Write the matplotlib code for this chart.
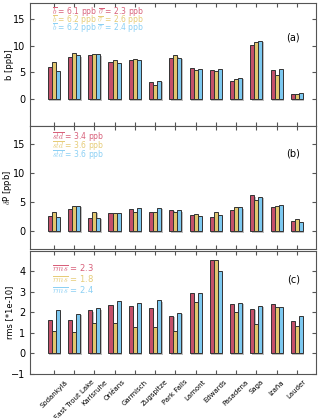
import numpy as np
import matplotlib
matplotlib.use("Agg")
import matplotlib.pyplot as plt
import matplotlib.patheffects as pe

plt.rcParams["mathtext.fontset"] = "cm"

stations = ["Sodankylä", "East Trout Lake", "Karlsruhe", "Orléans", "Garmisch",
            "Zugspitze", "Park Falls", "Lamont", "Edwards", "Pasadena",
            "Saga", "Izaña", "Lauder"]

# panel (a) bias b [ppb]
bias_red = [6.1, 7.9, 8.25, 6.9, 7.3, 3.25, 7.7, 5.75, 5.45, 3.45, 10.1, 5.5, 0.95]
bias_yel = [6.9, 8.6, 8.4, 7.3, 7.55, 2.75, 8.2, 5.55, 5.2, 3.8, 10.7, 4.5, 1.05]
bias_blu = [5.3, 8.25, 8.4, 6.75, 7.4, 3.5, 7.7, 5.7, 5.7, 4.0, 10.9, 5.7, 1.1]

# panel (b) std dP [ppb]
std_red = [2.6, 3.9, 2.3, 3.1, 3.75, 3.35, 3.65, 2.75, 2.4, 3.6, 6.15, 4.2, 1.8]
std_yel = [3.3, 4.4, 3.4, 3.1, 3.4, 3.35, 3.35, 2.9, 3.25, 4.25, 5.35, 4.4, 2.15]
std_blu = [2.5, 4.4, 2.35, 3.1, 4.05, 4.0, 3.6, 2.6, 2.8, 4.1, 5.95, 4.55, 1.65]

# panel (c) rms [*1e-10]
rms_red = [1.65, 1.63, 2.11, 2.35, 2.31, 2.23, 1.84, 2.95, 4.55, 2.39, 2.19, 2.4, 1.6]
rms_yel = [1.08, 1.03, 1.5, 1.5, 1.27, 1.27, 1.08, 2.5, 4.58, 2.03, 1.44, 2.27, 1.35]
rms_blu = [2.1, 1.94, 2.21, 2.55, 2.48, 2.6, 1.98, 2.97, 4.02, 2.47, 2.32, 2.26, 1.84]

colors = ["#c4506a", "#e2c66e", "#7cc8f0"]
text_colors = ["#d8607a", "#e6cc78", "#8cd0f4"]

labels_a = [r"$\overline{b}$ = 6.1 ppb $\overline{\sigma}$ = 2.3 ppb",
            r"$\overline{b}$ = 6.2 ppb $\overline{\sigma}$ = 2.6 ppb",
            r"$\overline{b}$ = 6.2 ppb $\overline{\sigma}$ = 2.4 ppb"]
labels_b = [r"$\overline{std}$ = 3.4 ppb", r"$\overline{std}$ = 3.6 ppb",
            r"$\overline{std}$ = 3.6 ppb"]
labels_c = [r"$\overline{rms}$ = 2.3", r"$\overline{rms}$ = 1.8",
            r"$\overline{rms}$ = 2.4"]

fig = plt.figure(figsize=(3.2, 4.18), dpi=100)
left, width, h = 0.094, 0.894, 0.2943
ax_a = fig.add_axes([left, 0.6986, width, h])
ax_b = fig.add_axes([left, 0.4043, width, h])
ax_c = fig.add_axes([left, 0.1053, width, h])

x = np.arange(len(stations))
w = 0.2
shadow = [pe.SimplePatchShadow(offset=(1, -1), shadow_rgbFace="gray", alpha=0.5), pe.Normal()]


def draw(ax, series, ylim, yticks, ylabel, texts, tag, ty, dy, tagy, tsize=5.5):
    for k, (vals, c) in enumerate(zip(series, colors)):
        bars = ax.bar(x + (k - 1) * w, vals, w, color=c, edgecolor="#333333", linewidth=0.7)
        for b in bars:
            b.set_path_effects(shadow)
    ax.set_xlim(-1.17, 12.95)
    ax.set_ylim(*ylim)
    ax.set_yticks(yticks)
    ax.set_xticks(x)
    ax.tick_params(direction="in", top=True, right=True, labelsize=7, length=3,
                   color="#555555")
    for s in ax.spines.values():
        s.set_color("#555555")
    ax.set_ylabel(ylabel, fontsize=6)
    for i, (t, c) in enumerate(zip(texts, text_colors)):
        ax.text(0.077, ty - i * dy, t, color=c, fontsize=tsize,
                transform=ax.transAxes, va="center")
    ax.text(0.92, tagy, tag, fontsize=7, transform=ax.transAxes, ha="center", va="center")


draw(ax_a, [bias_red, bias_yel, bias_blu], (-5, 18), [0, 5, 10, 15], "b [ppb]",
     labels_a, "(a)", 0.93, 0.066, 0.72)
draw(ax_b, [std_red, std_yel, std_blu], (-3, 18), [0, 5, 10, 15], r"$\delta$P [ppb]",
     labels_b, "(b)", 0.91, 0.073, 0.78)
draw(ax_c, [rms_red, rms_yel, rms_blu], (-1, 5), [-1, 0, 1, 2, 3, 4], "rms [*1e-10]",
     labels_c, "(c)", 0.86, 0.09, 0.77, tsize=6)

ax_a.set_xticklabels([])
ax_b.set_xticklabels([])
ax_c.set_xticklabels(stations, rotation=45, fontsize=5)
for ax in (ax_a, ax_b, ax_c):
    ax.yaxis.set_label_coords(-0.055, 0.5)

fig.savefig("out.png", dpi=100)
